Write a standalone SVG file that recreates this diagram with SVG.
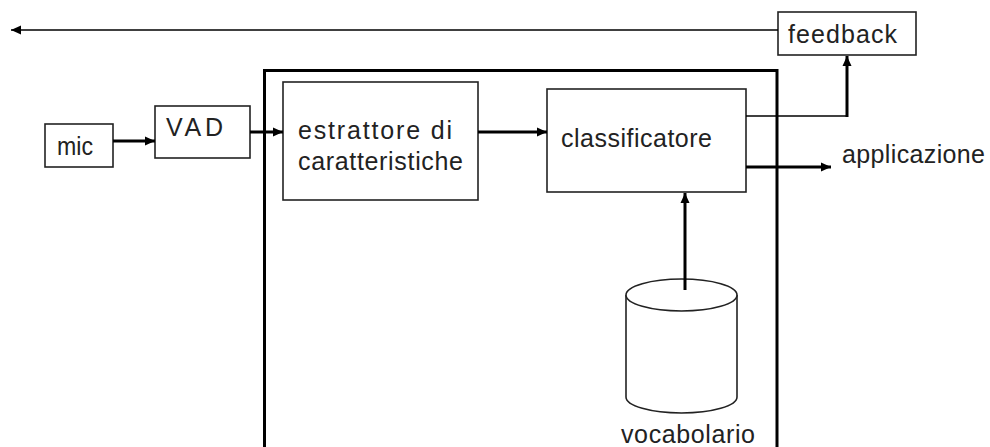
<svg xmlns="http://www.w3.org/2000/svg" width="990" height="447" viewBox="0 0 990 447">
<style>
.box{fill:#fff;stroke:#222;stroke-width:1.6}
.t{font-family:"Liberation Sans",Arial,sans-serif;font-size:25px;fill:#222}
.thick{fill:none;stroke:#000;stroke-width:3}
.thin{fill:none;stroke:#000;stroke-width:1.5}
</style>
<defs>
<marker id="ah" markerUnits="userSpaceOnUse" markerWidth="12" markerHeight="10" viewBox="0 0 12 10" refX="10" refY="5" orient="auto">
<path d="M0,0.5 L10,5 L0,9.5 Z" fill="#000"/>
</marker>
</defs>
<g id="system">
<path d="M264.5,447 V70.5 H777 V447" class="thick"/>
</g>
<g id="mic">
<rect x="45" y="124" width="68" height="43" class="box"/>
<text x="57" y="155" class="t" textLength="36" lengthAdjust="spacingAndGlyphs">mic</text>
</g>
<g id="vad">
<rect x="155" y="106" width="95" height="52" class="box"/>
<text x="166" y="136" class="t" textLength="57">VAD</text>
</g>
<g id="estrattore">
<rect x="283" y="82" width="195" height="118" class="box"/>
<text x="298" y="139" class="t" textLength="154">estrattore di</text>
<text x="298" y="170" class="t" textLength="165">caratteristiche</text>
</g>
<g id="classificatore">
<rect x="547" y="89" width="199" height="103" class="box"/>
<text x="561" y="147" class="t" textLength="151">classificatore</text>
</g>
<g id="feedback">
<rect x="778" y="12" width="138" height="43" class="box"/>
<text x="788" y="43" class="t" textLength="109">feedback</text>
</g>
<g id="vocabolario">
<path d="M626,295 V397 A55.5,16 0 0 0 737,397 V295" class="box"/>
<ellipse cx="681.5" cy="295" rx="55.5" ry="16" class="box"/>
<text x="621" y="443" class="t" textLength="134">vocabolario</text>
</g>
<g id="applicazione">
<text x="842" y="163" class="t" textLength="143">applicazione</text>
</g>
<g id="connectors">
<path d="M113,141 H155" class="thick" marker-end="url(#ah)"/>
<path d="M250,132 H283" class="thick" marker-end="url(#ah)"/>
<path d="M478,132 H547" class="thick" marker-end="url(#ah)"/>
<path d="M746,167 H831" class="thick" marker-end="url(#ah)"/>
<path d="M685,290 V193" class="thick" marker-end="url(#ah)"/>
<path d="M746,116 H847" class="thin"/>
<path d="M847,117 V56" class="thick" marker-end="url(#ah)"/>
<path d="M778,30 H11" class="thin" marker-end="url(#ah)"/>
</g>
</svg>
